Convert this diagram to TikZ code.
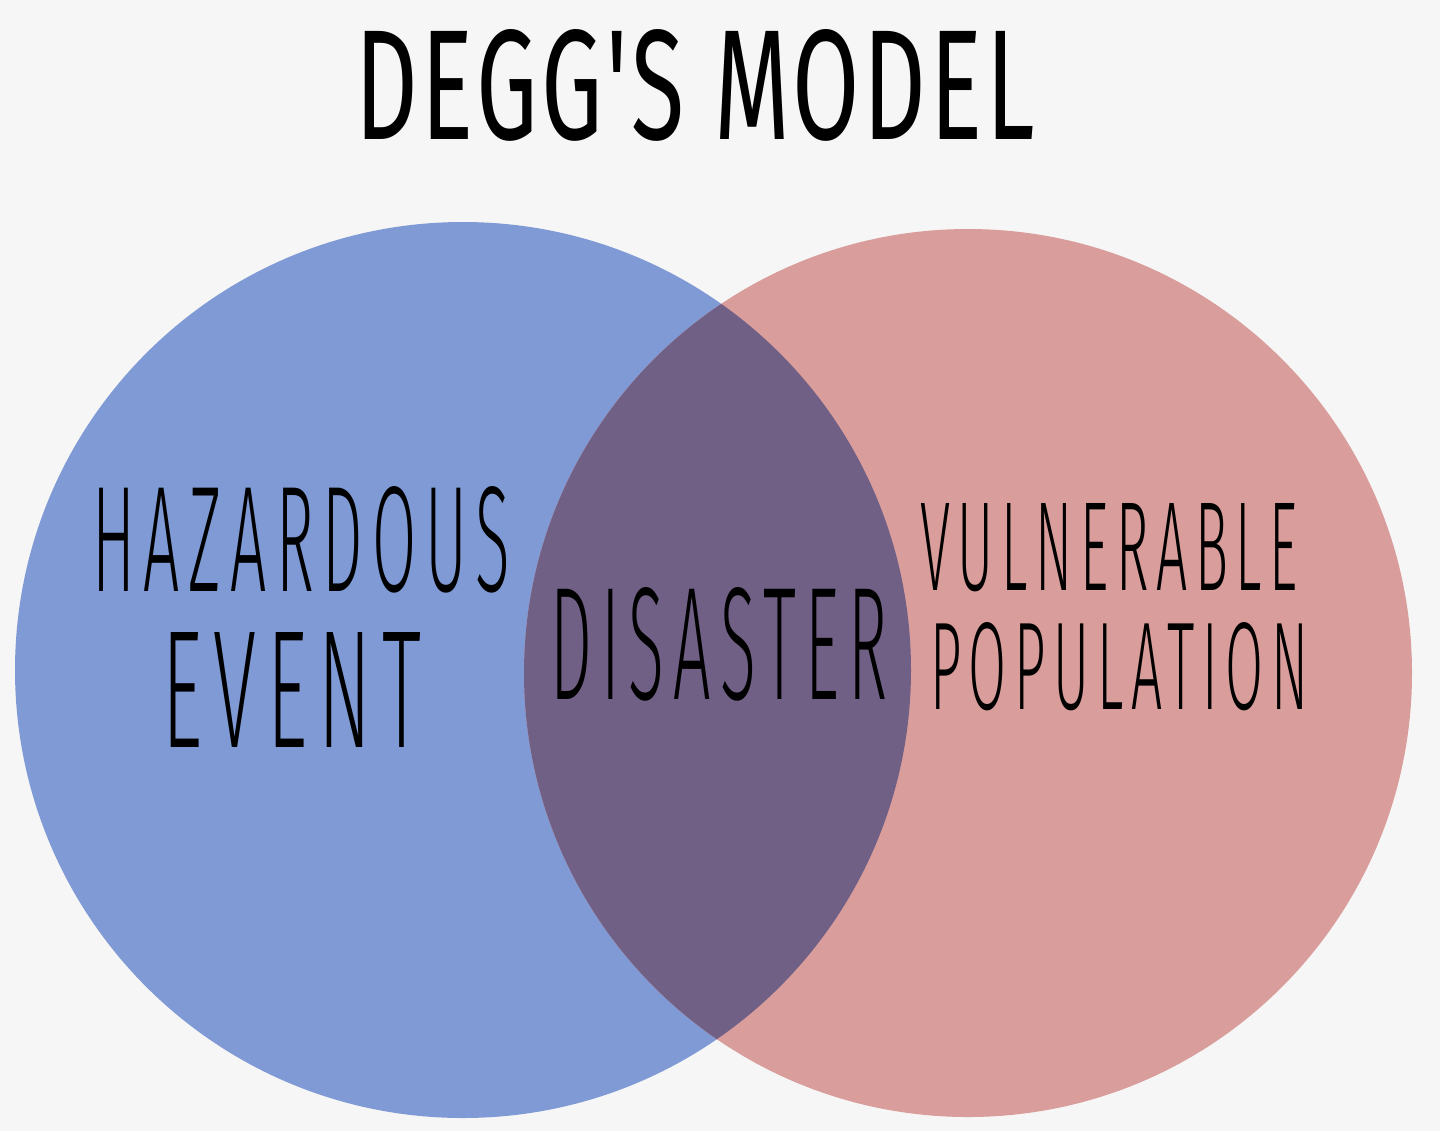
\documentclass[tikz,border=0pt]{standalone}
\usepackage{fontspec}
\usepackage{graphicx}
\newfontfamily\thinfont[LetterSpace=14]{Fira Sans Light}
\newfontfamily\boldtitle[LetterSpace=4]{Fira Sans}
\definecolor{bg}{HTML}{F6F6F6}
\definecolor{hazblue}{HTML}{7F9AD5}
\definecolor{vulpink}{HTML}{D99E9B}
\definecolor{overlap}{HTML}{716085}
\newcommand{\fitbox}[3]{\resizebox{#1}{#2}{#3}}
\tikzset{
  lbl/.style={inner sep=0pt, outer sep=0pt, anchor=center, text=black},
}
\begin{document}
\begin{tikzpicture}[x=0.5pt,y=-0.5pt]
\fill[bg] (0,0) rectangle (1440,1131);
\useasboundingbox (0,0) rectangle (1440,1131);
% circles
\fill[hazblue] (463,670) circle[radius=448];
\fill[vulpink] (968,673) circle[radius=444];
\begin{scope}
  \clip (463,670) circle[radius=448];
  \fill[overlap] (968,673) circle[radius=444];
\end{scope}
% title
\node[lbl] (title) at (695,85) {\fitbox{340pt}{55pt}{\boldtitle\fontsize{60}{60}\selectfont DEGG'S MODEL}};
% labels
\node[lbl] (haz) at (301,540) {\fitbox{209pt}{52.5pt}{\thinfont\fontsize{60}{60}\selectfont HAZARDOUS}};
\node[lbl] (evt) at (292,690) {\fitbox{129.5pt}{57.5pt}{\thinfont\fontsize{60}{60}\selectfont EVENT}};
\node[lbl] (dis) at (719,644) {\fitbox{169pt}{56pt}{\thinfont\fontsize{60}{60}\selectfont DISASTER}};
\node[lbl] (vul) at (1109,548) {\fitbox{189pt}{43.5pt}{\thinfont\fontsize{60}{60}\selectfont VULNERABLE}};
\node[lbl] (pop) at (1119,667) {\fitbox{189pt}{43.5pt}{\thinfont\fontsize{60}{60}\selectfont POPULATION}};
\end{tikzpicture}
\end{document}
